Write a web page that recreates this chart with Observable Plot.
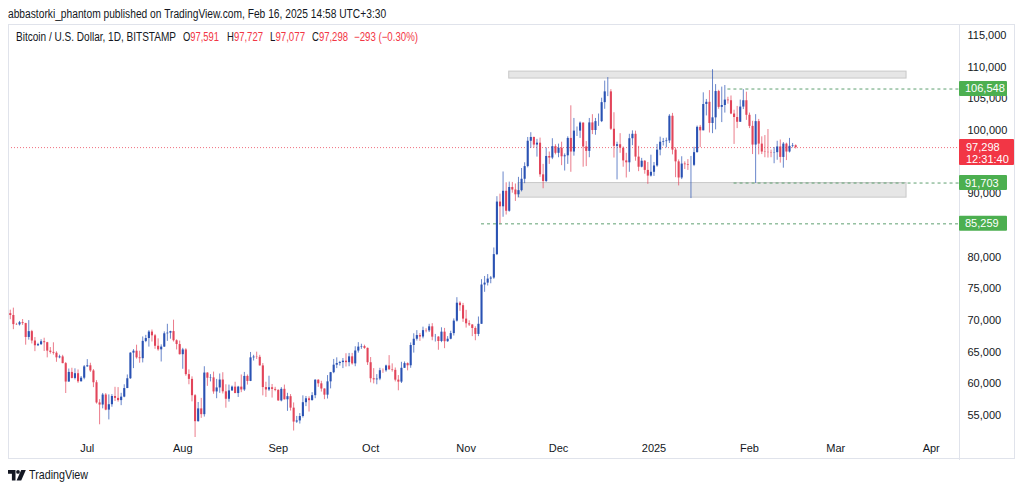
<!DOCTYPE html>
<html><head><meta charset="utf-8">
<script src="https://cdn.jsdelivr.net/npm/d3@7"></script>
<script src="https://cdn.jsdelivr.net/npm/@observablehq/plot@0.6"></script>
<style>
html,body{margin:0;padding:0;background:#fff;width:1024px;height:490px;overflow:hidden}
body{position:relative;font-family:"Liberation Sans",Arial,sans-serif;color:#131722}
.fit{display:inline-block;white-space:nowrap;transform-origin:0 50%}
#pub{position:absolute;left:8px;top:7px;font-size:12.5px}
#chart{position:absolute;left:0;top:24px}
#frame{position:absolute;left:8px;top:24px;width:1007px;height:435px;border:1px solid #e0e3eb;box-sizing:border-box;pointer-events:none}
#legend{position:absolute;left:0;top:30px;font-size:12px;white-space:nowrap}
#legend .fit{position:absolute;top:0}
.r{color:#f23645}
#logo{position:absolute;left:8px;top:467px;width:100px;height:16px}
#logo svg{position:absolute;left:0;top:3px}
#logo .fit{position:absolute;left:21px;top:0;font-size:13.5px}
</style></head>
<body>
<div id="pub" class="fit" data-w="378">abbastorki_phantom published on TradingView.com, Feb 16, 2025 14:58 UTC+3:30</div>
<div id="chart"></div>
<div id="frame"></div>
<div id="legend">
<span class="fit" data-w="160" style="left:16px">Bitcoin / U.S. Dollar, 1D, BITSTAMP</span>
<span class="fit" data-w="36" style="left:183px">O<span class="r">97,591</span></span>
<span class="fit" data-w="36" style="left:227px">H<span class="r">97,727</span></span>
<span class="fit" data-w="35" style="left:270px">L<span class="r">97,077</span></span>
<span class="fit" data-w="36" style="left:312px">C<span class="r">97,298</span></span>
<span class="fit r" data-w="64" style="left:354px">−293 (−0.30%)</span>
</div>
<div id="logo"><svg width="18" height="11" viewBox="0 0 18 11"><path d="M0 0h7.5v10.5h-3.6v-6.8h-3.9z" fill="#131722"/><circle cx="10" cy="1.9" r="1.9" fill="#131722"/><path d="M13.2 0h4.6l-4.6 10.5h-4.6z" fill="#131722"/></svg><span class="fit" data-w="59">TradingView</span></div>
<script>
// Daily candles [open, high, low, close], BITSTAMP BTC/USD
const jun24 = [ // from Jun 6
[71080,71630,70120,70790],[70790,71950,68550,69350],[69350,69550,69210,69310],[69310,69850,69130,69650],
[69650,70150,69230,69510],[69510,69560,66100,67320],[67320,69980,66900,68240],[68240,68440,66300,66760],
[66760,67300,65080,66010],[66010,66400,65880,66190],[66190,66960,66050,66640],[66640,67200,65100,66490],
[66490,66550,64100,65160],[65160,65730,64690,64960],[64960,66480,64540,64830],[64830,65060,63400,64100],
[64100,64520,63950,64250],[64250,64500,63170,63190],[63190,63370,58470,60280],[60280,62340,60250,61800],
[61800,62460,60780,60850],[60850,62370,60620,61600],[61600,62190,60070,60320],[60320,61150,60290,60890],
[60890,62890,60640,62680]];
const jul24 = [
[62680,63820,62600,62850],[62850,63250,61800,62030],[62030,62250,59400,60170],[60170,60500,56800,56980],
[56980,57500,53530,56650],[56650,58480,56050,58230],[58230,58450,55750,55850],[55850,58250,54300,56700],
[56700,58300,56300,58000],[58000,59450,57200,57700],[57700,59400,57100,57350],[57350,58500,56550,57900],
[57900,59850,57800,59250],[59250,61400,59250,60800],[60800,64900,60700,64850],[64850,65400,62400,65150],
[65150,66100,63900,64100],[64100,65150,63250,63970],[63970,67400,63300,66700],[66700,67650,66500,67150],
[67150,68400,65800,68170],[68170,68500,66600,67580],[67580,67800,65450,65930],[65930,67100,65150,65370],
[65370,66150,63450,65800],[65800,68200,65750,67900],[67900,69400,66700,68000],[68000,68300,67050,68250],
[68250,70050,66600,66800],[66800,66950,65350,66200],[66200,66750,64550,64600]];
const aug24 = [
[64600,65600,62300,65350],[65350,65550,61200,61450],[61450,62200,59850,60700],[60700,61100,57150,58120],
[58120,58300,49050,54020],[54020,57050,53950,56040],[56040,57700,54550,55130],[55130,62700,54750,61700],
[61700,61750,59600,60880],[60880,61450,60300,60940],[60940,61850,58350,58720],[58720,60700,57650,59350],
[59350,61550,58500,60600],[60600,61750,58400,58740],[58740,59850,56150,57560],[57560,59800,57100,58880],
[58880,59650,58800,59480],[59480,60250,58450,58460],[58460,59600,57850,59480],[59480,61400,58600,59030],
[59030,61800,58800,61170],[61170,61400,59800,60380],[60380,64950,60350,64100],[64100,64500,63600,64220],
[64220,65000,63850,64180],[64180,64500,62800,62830],[62830,63200,58100,59410],[59410,60250,57850,59030],
[59030,61200,58800,59380],[59380,59900,57750,59120],[59120,59450,58750,58970]];
const sep24 = [
[58970,59050,57250,57300],[57300,59400,57150,59130],[59130,59800,57450,57480],[57480,58500,55650,57970],
[57970,58300,55700,56160],[56160,56980,52550,53960],[53960,54850,53750,54140],[54140,55300,53650,54840],
[54840,58100,54600,57020],[57020,58000,56400,57640],[57640,57950,55550,57340],[57340,58600,57300,58130],
[58130,60650,57650,60570],[60570,60650,59450,60000],[60000,60400,58700,59180],[59180,59200,57500,58210],
[58210,61300,57600,60310],[60310,61800,59200,61760],[61760,63850,61600,62940],[62940,64100,62400,63200],
[63200,63550,62800,63350],[63350,64000,62400,63580],[63580,64750,62650,63340],[63340,64800,62700,64260],
[64260,64800,62950,63150],[63150,65850,62700,65180],[65180,66500,64850,65800],[65800,66250,65450,65880],
[65880,66100,65450,65600],[65600,65650,62900,63330]];
const oct24 = [
[63330,64150,60150,60800],[60800,62400,59990,60630],[60630,61450,59850,60750],[60750,62450,60500,62070],
[62070,62350,61650,62060],[62060,62950,61830,62820],[62820,64450,62150,62210],[62210,63150,61850,62130],
[62130,62500,60300,60580],[60580,61300,58900,60270],[60270,63400,60050,62450],[62450,63450,62450,63190],
[63190,63300,62050,62850],[62850,66450,62450,66050],[66050,67900,64850,67040],[67040,68400,66750,67620],
[67620,67950,66700,67390],[67390,68950,67100,68400],[68400,68700,68050,68360],[68360,69400,68100,69000],
[69000,69500,66800,67370],[67370,67800,66600,67380],[67380,67450,65300,66680],[66680,68850,66500,68160],
[68160,68750,65550,66650],[66650,67450,66550,67040],[67040,68300,66950,67930],[67930,70250,67550,69900],
[69900,73600,69750,72730],[72730,72950,71450,72340],[72340,72700,69700,70220]];
const nov24 = [
[70220,71600,68800,69480],[69480,69950,69050,69290],[69290,69350,67450,68740],[68740,69000,66800,67800],
[67800,70550,67450,69400],[69400,76450,69400,75600],[75600,76950,74450,75900],[75900,77250,75450,76540],
[76540,76950,75800,76700],[76700,81450,76500,80400],[80400,89550,80250,88700],[88700,89950,85100,87950],
[87950,93450,86300,90400],[90400,91750,86650,87250],[87250,91850,87100,91000],[91000,91800,90100,90600],
[90600,91550,88800,89850],[89850,92600,89400,90500],[90500,94000,90300,92300],[92300,94900,91600,94300],
[94300,98900,94100,98300],[98300,99650,97200,98900],[98900,98950,97200,97700],[97700,98600,95800,98000],
[98000,98800,92600,93000],[93000,94650,90800,91950],[91950,97250,91800,95900],[95900,96600,94650,95650],
[95650,98700,95400,97450],[97450,97750,96150,96400]];
const dec24 = [
[96400,97850,95700,97200],[97200,98150,94450,95850],[95850,96300,93600,96000],[96000,99000,94650,98750],
[98750,103900,93400,96600],[96600,101900,95950,99900],[99900,100550,99050,99900],[99900,101350,98750,101170],
[101170,101200,94200,97400],[97400,98250,94300,96700],[96700,101900,95700,101200],[101200,102500,99350,100000],
[100000,101900,99250,101400],[101400,102600,100650,101400],[101400,105100,101250,104400],[104400,107800,103350,106100],
[106100,108350,105350,106100],[106100,106450,100000,100200],[100200,102800,95650,97500],[97500,98150,92200,97750],
[97750,99500,96400,97200],[97200,97400,94200,95200],[95200,96400,92500,94900],[94900,99400,93400,98700],
[98700,99950,97600,99400],[99400,99900,95150,95800],[95800,97500,93500,94200],[94200,95600,94100,95150],
[95150,95250,93100,93700],[93700,94950,91500,92800],[92800,96100,92650,93400]];
const jan25 = [
[93400,94950,92750,94400],[94400,97800,94200,96900],[96900,98950,96000,98150],[98150,98750,97550,98250],
[98250,98800,97250,98350],[98350,102500,97950,102250],[102250,102700,96150,96900],[96900,97250,92550,95050],
[95050,95350,91250,92500],[92500,95850,92250,94700],[94700,95050,93850,94600],[94600,95400,93700,94500],
[94500,95900,89250,94500],[94500,97350,94300,96500],[96500,100700,96450,100500],[100500,100800,97300,99950],
[99950,105950,99950,104100],[104100,104900,102300,104450],[104450,106300,99600,101100],[101100,109600,99500,102000],
[102000,107250,100100,106150],[106150,106350,103350,103650],[103650,106850,101250,103950],[103950,107100,102750,104800],
[104800,105250,104150,104700],[104700,105450,102500,102600],[102600,103200,97800,102050],[102050,103800,100300,101300],
[101300,104800,101300,103700],[103700,106450,103300,104700],[104700,106050,101600,102400]];
const feb25 = [ // to Feb 16
[102400,102750,100300,100650],[100650,101450,96200,97700],[97700,102500,91650,101400],[101400,101750,96150,97850],
[97850,99000,96200,96600],[96600,99200,95700,96550],[96550,100150,95650,96500],[96500,96900,95700,96450],
[96450,97300,94750,96500],[96500,98300,95300,97400],[97400,98500,94850,95750],[95750,98100,94050,97850],
[97850,98000,95250,96600],[96600,98750,96450,97500],[97500,97950,97250,97590],[97591,97727,97077,97298]];
const monthStarts = ["2024-06-06","2024-07-01","2024-08-01","2024-09-01","2024-10-01","2024-11-01","2024-12-01","2025-01-01","2025-02-01"];
const monthRows = [jun24, jul24, aug24, sep24, oct24, nov24, dec24, jan25, feb25];

// axis ticks (85,000 and 95,000 are hidden behind price labels in the original)
const yTicks = [55000,60000,65000,70000,75000,80000,90000,100000,105000,110000,115000];
const xTickDates = ["2024-07-01","2024-08-01","2024-09-01","2024-10-01","2024-11-01","2024-12-01","2025-01-01","2025-02-01","2025-03-01","2025-04-01"];
const xTickLabels = ["Jul","Aug","Sep","Oct","Nov","Dec","2025","Feb","Mar","Apr"];

// drawings
const levelValues = [106548, 91703, 85259];
const levelStarts = ["2025-01-25","2025-01-27","2024-11-06"];
const zoneStarts = ["2024-11-15","2024-11-18"];
const zoneEnds = ["2025-03-24","2025-03-24"];
const zoneLows = [108200, 89400];
const zoneHighs = [109300, 91700];
const lastPrice = 97298;
const lastTimer = "12:31:40";

const day = 864e5;
const candles = [];
monthStarts.forEach((s, m) => {
  const d0 = Date.parse(s + "T00:00:00Z");
  monthRows[m].forEach(([o,h,l,c], i) => candles.push({date: new Date(d0 + i*day), open:o, high:h, low:l, close:c}));
});
const UP = "#2a52b3", DOWN = "#e2455a";
const col = d => d.close >= d.open ? UP : DOWN;

const xDomain = [new Date("2024-06-05T10:07:00Z"), new Date("2025-04-10T04:34:00Z")];
const zones = zoneStarts.map((s,i) => ({x1: new Date(s+"T00:00:00Z"), x2: new Date(zoneEnds[i]+"T00:00:00Z"), y1: zoneLows[i], y2: zoneHighs[i]}));
const levels = levelValues.map((v,i) => ({y: v, x1: new Date(levelStarts[i]+"T00:00:00Z"), x2: xDomain[1]}));
const FONT = '"Liberation Sans",Arial,sans-serif';

const chart = Plot.plot({
  width: 1024, height: 436,
  marginLeft: 8, marginRight: 65, marginTop: 1, marginBottom: 23,
  style: {background: "transparent", fontFamily: FONT, fontSize: "11px", color: "#131722"},
  x: {type: "utc", domain: xDomain},
  y: {domain: [51524, 116579]},
  marks: [
    Plot.ruleY([lastPrice], {stroke: "#f0707e", strokeDasharray: "1,2", strokeWidth: 1}),
    Plot.rect(zones, {x1: "x1", x2: "x2", y1: "y1", y2: "y2", fill: "#e6e6e6", stroke: "#c8c8c8", strokeWidth: 1}),
    Plot.ruleX(candles, {x: "date", y1: "low", y2: "high", stroke: col, strokeOpacity: 0.7, strokeWidth: 1, clip: true}),
    Plot.ruleX(candles, {x: "date", y1: "open", y2: "close", stroke: col, strokeWidth: 2.1, clip: true}),
    Plot.ruleY(levels, {y: "y", x1: "x1", x2: "x2", stroke: "#5e9f70", strokeDasharray: "3,3", strokeWidth: 1}),
    Plot.axisY(yTicks, {anchor: "right", tickSize: 0, tickPadding: 8, tickFormat: d3.format(","), fontSize: 11, fill: "#131722"}),
    Plot.axisX(xTickDates.map(s => new Date(s+"T00:00:00Z")), {anchor: "bottom", tickSize: 0, tickPadding: 7, tickFormat: (d,i) => xTickLabels[i], fontSize: 11, fill: "#131722"})
  ]
});
document.getElementById("chart").appendChild(chart);

// price-scale labels, placed with the chart's y scale
const ys = chart.scale("y");
const svg = d3.select(chart);
const g = svg.append("g").attr("font-family", FONT).attr("font-size", 11).attr("text-anchor", "start");
const px = 959;
svg.insert("line", ":first-child").attr("x1", px+0.5).attr("x2", px+0.5).attr("y1", 0).attr("y2", 436).attr("stroke", "#e0e3eb");
levelValues.forEach(v => {
  const y = ys.apply(v);
  g.append("rect").attr("x", px).attr("y", y - 7.5).attr("width", 48).attr("height", 15).attr("rx", 1).attr("fill", "#4caf50");
  g.append("text").attr("x", px + 6).attr("y", y).attr("dy", "0.36em").attr("fill", "#fff").text(d3.format(",")(v));
});
{
  const y = ys.apply(lastPrice);
  g.append("rect").attr("x", px).attr("y", y - 8).attr("width", 55).attr("height", 26).attr("rx", 1).attr("fill", "#f23645");
  g.append("text").attr("x", px + 7).attr("y", y).attr("dy", "0.36em").attr("fill", "#fff").text(d3.format(",")(lastPrice));
  g.append("text").attr("x", px + 7).attr("y", y + 11.5).attr("dy", "0.36em").attr("fill", "#fff").text(lastTimer);
}

// fit HTML texts to the widths they take in the original
document.querySelectorAll(".fit").forEach(el => {
  el.style.transform = "none";
  const w = el.getBoundingClientRect().width;
  const target = +el.dataset.w;
  if (w > 0 && target) el.style.transform = `scaleX(${(target / w).toFixed(3)})`;
});
</script>
</body></html>
